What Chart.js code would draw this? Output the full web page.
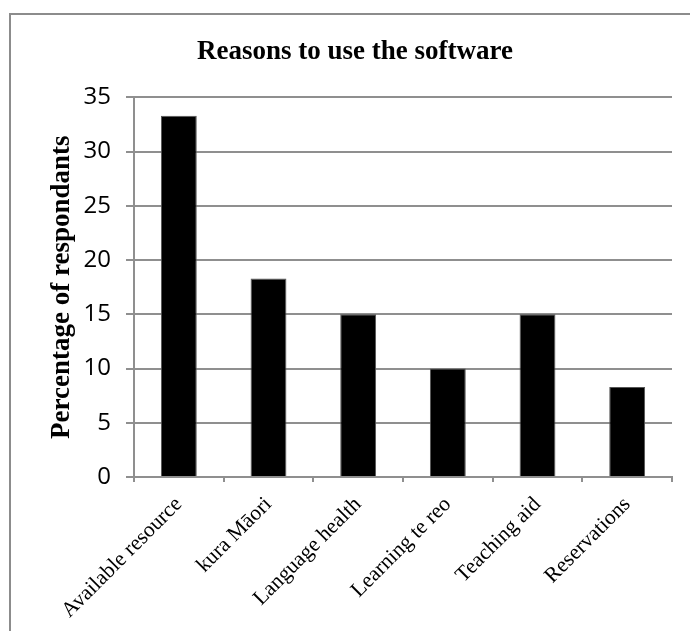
<!DOCTYPE html>
<html lang="en">
<head>
    <meta charset="UTF-8" />
    <title>Reasons to use the software</title>
    <script src="https://cdn.jsdelivr.net/npm/chart.js"></script>
    <style>
        body { margin: 0; background: #fff; }
        canvas { display: block; }
    </style>
</head>
<body>
    <canvas id="chart" width="690" height="631"></canvas>

    <script>
        const reasons = ["Available resource", "kura Māori", "Language health", "Learning te reo", "Teaching aid", "Reservations"];
        const percentages = [33.3, 18.3, 15, 10, 15, 8.3];
        const yMin = 0;
        const yMax = 35;
        const yStep = 5;

        const gridGray = "#8f8f8f";

        // white page + the grey frame around the chart
        const framePlugin = {
            id: "frame",
            beforeDraw(chart) {
                const ctx = chart.ctx;
                ctx.save();
                ctx.fillStyle = "#fff";
                ctx.fillRect(0, 0, chart.width, chart.height);
                ctx.strokeStyle = "#8c8c8c";
                ctx.lineWidth = 2;
                ctx.strokeRect(10, 14, 1000, 1000);
                ctx.restore();
            }
        };

        new Chart(document.getElementById("chart"), {
            type: "bar",
            data: {
                labels: reasons,
                datasets: [{
                    data: percentages,
                    backgroundColor: "#000",
                    borderColor: "#555",
                    borderWidth: 1,
                    barPercentage: 0.4,
                    categoryPercentage: 1
                }]
            },
            options: {
                responsive: false,
                animation: false,
                layout: { padding: { left: 38, right: 18, top: 0, bottom: 0 } },
                plugins: {
                    legend: { display: false },
                    tooltip: { enabled: false },
                    title: {
                        display: true,
                        text: "Reasons to use the software",
                        color: "#000",
                        font: { family: "'Liberation Serif', 'Times New Roman', serif", size: 27, weight: "bold", lineHeight: 1.2 },
                        padding: { top: 36, bottom: 29 }
                    }
                },
                scales: {
                    x: {
                        afterFit(scale) { scale.height = 154; },
                        grid: {
                            display: true,
                            drawOnChartArea: false,
                            color: gridGray,
                            lineWidth: 2,
                            tickLength: 5,
                            offset: true
                        },
                        border: { color: gridGray, width: 2 },
                        ticks: {
                            autoSkip: false,
                            maxRotation: 45,
                            minRotation: 45,
                            color: "#000",
                            padding: 10,
                            font: { family: "'Liberation Serif', 'Times New Roman', serif", size: 21.5 }
                        }
                    },
                    y: {
                        min: yMin,
                        max: yMax,
                        afterFit(scale) { scale.width = 96; },
                        grid: { color: gridGray, lineWidth: 2, tickLength: 8 },
                        border: { color: gridGray, width: 2 },
                        ticks: {
                            stepSize: yStep,
                            color: "#000",
                            padding: 15,
                            font: { family: "'Open Sans', sans-serif", size: 24 }
                        },
                        title: {
                            display: true,
                            text: "Percentage of respondants",
                            color: "#000",
                            padding: { top: 8, bottom: 0 },
                            font: { family: "'Liberation Serif', 'Times New Roman', serif", size: 27, weight: "bold", lineHeight: 1.2 }
                        }
                    }
                }
            },
            plugins: [framePlugin]
        });
    </script>
</body>
</html>
